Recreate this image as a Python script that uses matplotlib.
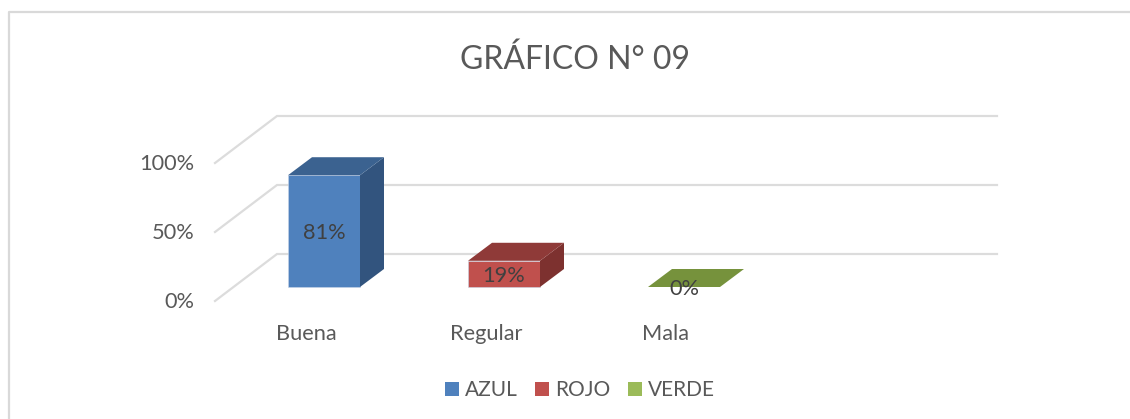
#!/usr/bin/env python3
"""
GRAFICO N 09 - pseudo 3D column chart, drawn with bars and polygons.
"""

import matplotlib
matplotlib.use("Agg")
import matplotlib.pyplot as plt
from matplotlib.patches import Patch, Polygon

plt.rcParams['font.family'] = ['Lato', 'DejaVu Sans']

# Data
categories = ['Buena', 'Regular', 'Mala']
values = [81, 19, 0]
series_names = ['AZUL', 'ROJO', 'VERDE']
y_ticks = [0, 50, 100]

# Colours per bar: front, top, side
front_colors = ['#4F81BD', '#C0504D', '#9BBB59']
top_colors = ['#3B6290', '#8F3A38', '#76923C']
side_colors = ['#32547E', '#7D312F', '#667F34']
grid_color = '#DCDCDC'
text_color = '#595959'

W, H = 1130, 419
PX_X = 180.0   # pixels per category
PX_Y = 1.38    # pixels per percent
X0, Y0 = 324, 287  # pixel position of category 0, value 0
LABEL_SIZE = 15.7

fig = plt.figure(figsize=(W / 100, H / 100), dpi=100)
ax = fig.add_axes([0, 0, 1, 1])
ax.set_xlim(-X0 / PX_X, (W - X0) / PX_X)
ax.set_ylim(-(H - Y0) / PX_Y, Y0 / PX_Y)
ax.axis('off')

# Chart frame
ax.plot([9 / W, 9 / W, 1], [0, 1 - 12.5 / H, 1 - 12.5 / H], transform=ax.transAxes,
        color='#D9D9D9', lw=1.6, clip_on=False)

# Depth offsets in data units
bar_width = 72 / PX_X
bar_dx, bar_dy = 24 / PX_X, 18 / PX_Y
floor_left = (215 - X0) / PX_X
wall_left = (277 - X0) / PX_X
wall_right = (997 - X0) / PX_X
floor_low = (287 - 301) / PX_Y
wall_up = (287 - 254) / PX_Y

# Grid on the wall and the side
for t in y_ticks:
    ax.plot([floor_left, wall_left, wall_right],
            [t + floor_low, t + wall_up, t + wall_up],
            color=grid_color, lw=1.6, solid_joinstyle='miter', zorder=1)
    ax.text((194 - X0) / PX_X, t - 15 / PX_Y, f'{t}%', ha='right', va='center',
            fontsize=LABEL_SIZE, color=text_color)

# Bars
for i, v in enumerate(values):
    left = i - bar_width / 2
    right = i + bar_width / 2
    if v > 0:
        ax.bar(i, v, width=bar_width, color=front_colors[i], edgecolor='#C9D6E8',
               linewidth=0.4, zorder=3)
        ax.add_patch(Polygon([(right, 0), (right + bar_dx, bar_dy),
                              (right + bar_dx, v + bar_dy), (right, v)],
                             fc=side_colors[i], ec='none', zorder=3))
    ax.add_patch(Polygon([(left, v), (right, v), (right + bar_dx, v + bar_dy),
                          (left + bar_dx, v + bar_dy)],
                         fc=top_colors[i], ec='none', zorder=3))
    ax.text(i, v / 2 - 2 / PX_Y, f'{v}%', ha='center', va='center',
            fontsize=LABEL_SIZE, color='#404040', zorder=4)
    ax.text(i - 18 / PX_X, (287 - 333.5) / PX_Y, categories[i], ha='center', va='center',
            fontsize=LABEL_SIZE, color=text_color)

# Title
ax.text((575.5 - X0) / PX_X, (287 - 60) / PX_Y, 'GRÁFICO N° 09', ha='center', va='center',
        fontsize=23, color=text_color)

# Legend
handles = [Patch(fc=c, ec='none') for c in front_colors]
ax.legend(handles, series_names, loc='center', bbox_to_anchor=(580 / W, 1 - 390 / H),
          ncol=3, frameon=False, fontsize=15, labelcolor=text_color,
          handlelength=0.67, handleheight=0.67, handletextpad=0.28, columnspacing=0.85)

fig.savefig('out.png', dpi=100)
